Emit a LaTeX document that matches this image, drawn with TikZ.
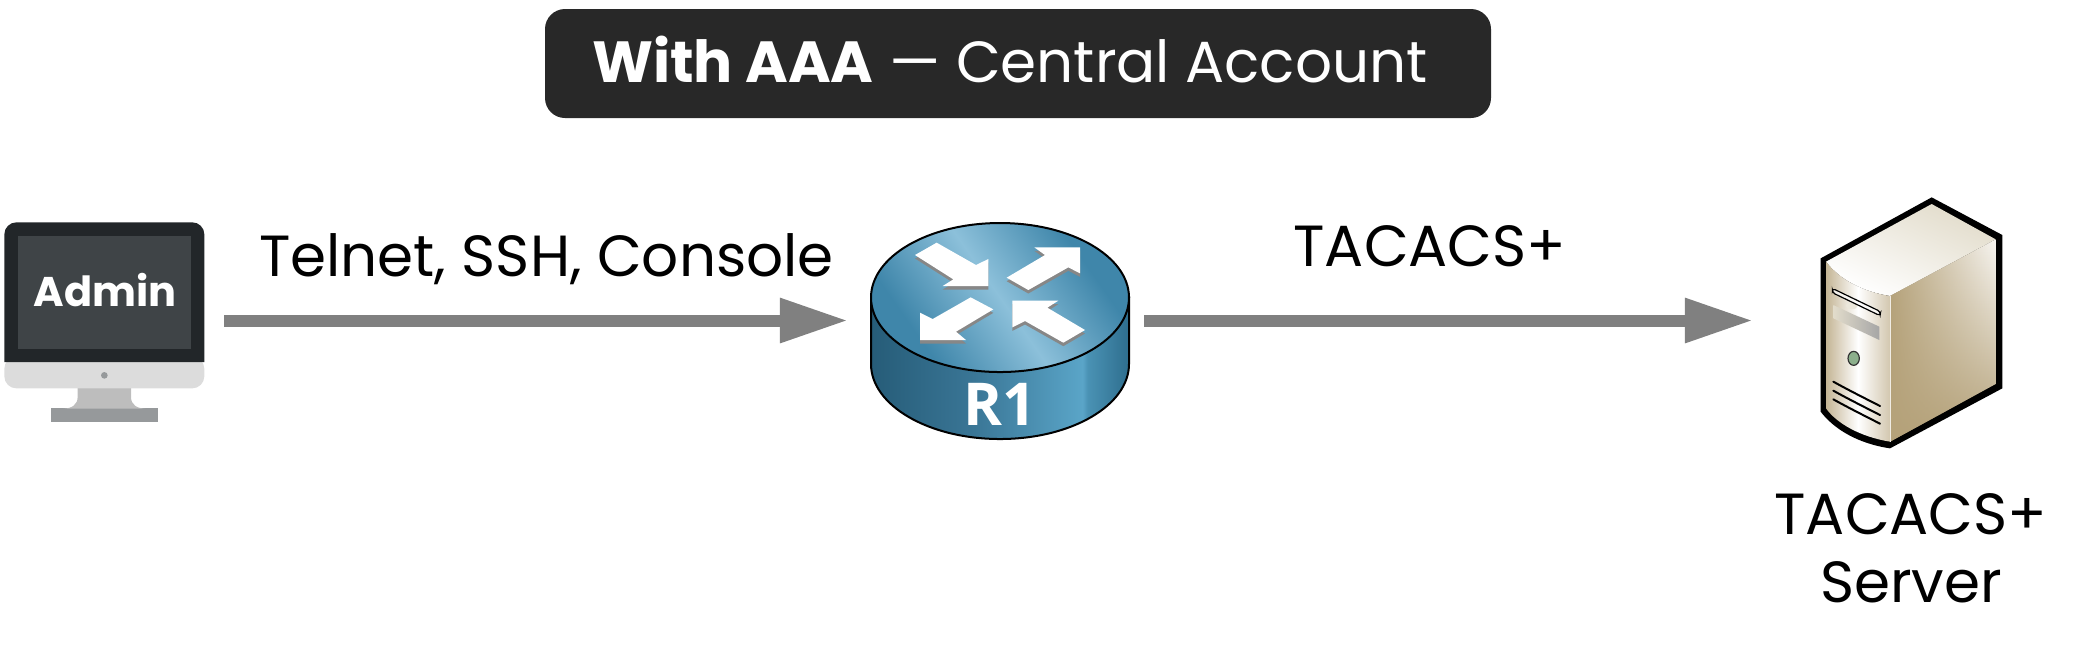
\documentclass[tikz,border=0pt]{standalone}
\usepackage{fontspec}
\setmainfont{Poppins}
\newfontfamily\labelfont{Open Sans}
\usetikzlibrary{arrows.meta,fadings}
\definecolor{boxdark}{HTML}{282828}
\definecolor{linkgray}{HTML}{808080}
\definecolor{bezel}{HTML}{222629}
\definecolor{panel}{HTML}{3F4447}
\definecolor{chin}{HTML}{DCDCDC}
\definecolor{neck}{HTML}{BDBDBD}
\definecolor{foot}{HTML}{96999B}
\definecolor{tan}{HTML}{B5A27A}
\definecolor{cream}{HTML}{E2DCCB}
\definecolor{sidea}{HTML}{265C78}
\definecolor{sideb}{HTML}{3A7696}
\definecolor{sidec}{HTML}{5AA5C8}
\definecolor{sided}{HTML}{4A92B4}
\definecolor{sidee}{HTML}{2E6E8E}
\definecolor{topdark}{HTML}{3F86AA}
\definecolor{toplight}{HTML}{8CC0DA}
\pgfdeclarehorizontalshading{routerside}{100bp}{color(0bp)=(sidea);color(25bp)=(sidea);color(45bp)=(sideb);color(66bp)=(sidec);color(67bp)=(sided);color(75bp)=(sidee);color(100bp)=(sidee)}
\pgfdeclareverticalshading{routertop}{100bp}{color(0bp)=(topdark);color(29bp)=(topdark);color(50bp)=(toplight);color(71bp)=(topdark);color(100bp)=(topdark)}
\tikzset{
  iconbox/.style={inner sep=0pt,outer sep=0pt},
  linkarrow/.style={linkgray,line width=0.12cm,-{Triangle[length=0.68cm,width=0.42cm]}},
  linktext/.style={inner sep=0pt,font=\fontsize{16.5}{20}\selectfont},
  chevron/.style={fill=white},
  chevronshadow/.style={fill=black!47}
}
\begin{document}
\begin{tikzpicture}[x=0.01cm,y=-0.01cm]
    \useasboundingbox (0,0) rectangle (2081,653);
    \node [iconbox,minimum width=200*0.01cm,minimum height=200*0.01cm] (admin) at (104,320.5) {};
    \node [iconbox,minimum width=258*0.01cm,minimum height=216*0.01cm] (router) at (1000,320.5) {};
    \node [iconbox,minimum width=181*0.01cm,minimum height=250*0.01cm] (server) at (1911.5,320.5) {};
    % title
    \node [fill=boxdark,rounded corners=0.2cm,minimum width=946*0.01cm,minimum height=109*0.01cm,inner sep=0pt,text=white,font=\fontsize{16.5}{20}\selectfont] (title) at (1018,63.5) {\raisebox{-0.185cm}[0pt][0pt]{\textbf{With AAA} --- Central Account}\hspace{0.16cm}\null};
    % admin monitor
    \begin{scope}[shift={(0,200)},x=0.01cm/3,y=-0.01cm/3]
        \fill [foot] (153,625) rectangle (473,667);
        \fill [neck] (233,560) -- (233,590) .. controls (233,615) and (215,625) .. (190,626) -- (436,626) .. controls (411,625) and (393,615) .. (393,590) -- (393,560) -- cycle;
        \fill [chin,rounded corners=0.12cm] (13,470) -- (13,565) -- (613,565) -- (613,470) -- cycle;
        \fill [bezel,rounded corners=0.12cm] (13,486) [sharp corners] -- (13,300) [rounded corners=0.12cm] -- (13,67) -- (613,67) -- (613,300) [sharp corners] -- (613,486) -- cycle;
        \fill [panel] (53,107) rectangle (573,447);
        \fill [foot] (313,526) circle (10);
    \end{scope}
    \node [inner sep=0pt,text=white,font=\bfseries\fontsize{11.8}{14}\selectfont] (admintext) at (105,290.5) {Admin};
    % router
    \path [draw=black,line width=0.02cm,shading=routerside] (871,297) -- (871,364) arc [start angle=180,end angle=0,x radius=129,y radius=75] -- (1129,297) -- cycle;
    \path [draw=black,line width=0.02cm,shading=routertop,shading angle=-55] (1000,297.5) ellipse [x radius=129,y radius=74.5];
    \begin{scope}[shift={(850,210)},x=0.01cm/3,y=-0.01cm/3]
        \foreach \tipshape in {
            {(195,135) -- (260,98) -- (378,165) -- (415,147) -- (415,228) -- (278,228) -- (310,208) -- cycle},
            {(470,203) -- (585,135) -- (553,112) -- (690,112) -- (690,190) -- (655,172) -- (535,240) -- cycle},
            {(210,308) -- (248,327) -- (362,262) -- (430,298) -- (318,365) -- (348,390) -- (210,390) -- cycle},
            {(487,272) -- (625,272) -- (592,293) -- (705,360) -- (640,398) -- (525,333) -- (487,352) -- cycle}} {
            \fill [chevronshadow,yshift=-0.035cm] \tipshape;
            \fill [chevron] \tipshape;
        }
    \end{scope}
    \node [inner sep=0pt,text=white,font=\labelfont\bfseries\fontsize{16.8}{18}\selectfont] (routertext) at (1000,404) {R1};
    % server
    \begin{scope}[shift={(1790,180)},x=0.01cm/3,y=-0.01cm/3]
        \fill [black] (425,52) -- (637,165) -- (637,625) -- (300,805) .. controls (200,790) and (130,745) .. (92,695) -- (92,235) -- cycle;
        \path [top color=cream,bottom color=white,shading angle=-25] (425,72) -- (617,178) -- (300,348) .. controls (220,335) and (150,300) .. (108,245) -- cycle;
        \path [left color=tan!80!white,right color=tan!60!white,middle color=white] (108,245) .. controls (150,300) and (220,335) .. (300,348) -- (300,785) .. controls (210,770) and (140,730) .. (108,685) -- cycle;
        \path [top color=white!90!tan,bottom color=tan] (300,348) -- (617,178) -- (617,612) -- (300,785) -- cycle;
        \fill [tan,path fading=east] (300,348) -- (617,178) -- (617,612) -- (300,785) -- cycle;
        \draw [white!80!tan,line width=0.01cm] (300,348) -- (300,785);
        \fill [cream!70!white] (185,377) ellipse [x radius=18,y radius=11];
        \draw [black,fill=white,fill opacity=0.7,line width=0.012cm,rounded corners=0.03cm] (127,325) -- (272,395) -- (270,407) -- (127,338) -- cycle;
        \path [left color=cream,right color=black!35] (130,375) -- (268,440) -- (268,480) -- (130,415) -- cycle;
        \draw [black!80,fill=green!30!black!45,line width=0.012cm] (191,535) ellipse [x radius=17,y radius=21];
        \foreach \venty in {605,632,658} {
            \draw [black,line width=0.02cm,line cap=round] (130,\venty) .. controls (175,\venty+25) and (225,\venty+50) .. (270,\venty+73);
        }
    \end{scope}
    % connectors
    \draw [linkarrow,shorten <=20*0.01cm,shorten >=23*0.01cm] (admin.east) -- (router.west);
    \draw [linkarrow,shorten <=15*0.01cm,shorten >=68*0.01cm] (router.east) -- (server.west);
    \node [linktext] (leftlabel) at (546.5,259) {Telnet, SSH, Console};
    \node [linktext] (rightlabel) at (1430,246) {TACACS+};
    \node [linktext,align=center,font=\fontsize{16.5}{19.4}\selectfont] (servertext) at (1911,548) {TACACS+\\Server};
\end{tikzpicture}
\end{document}
